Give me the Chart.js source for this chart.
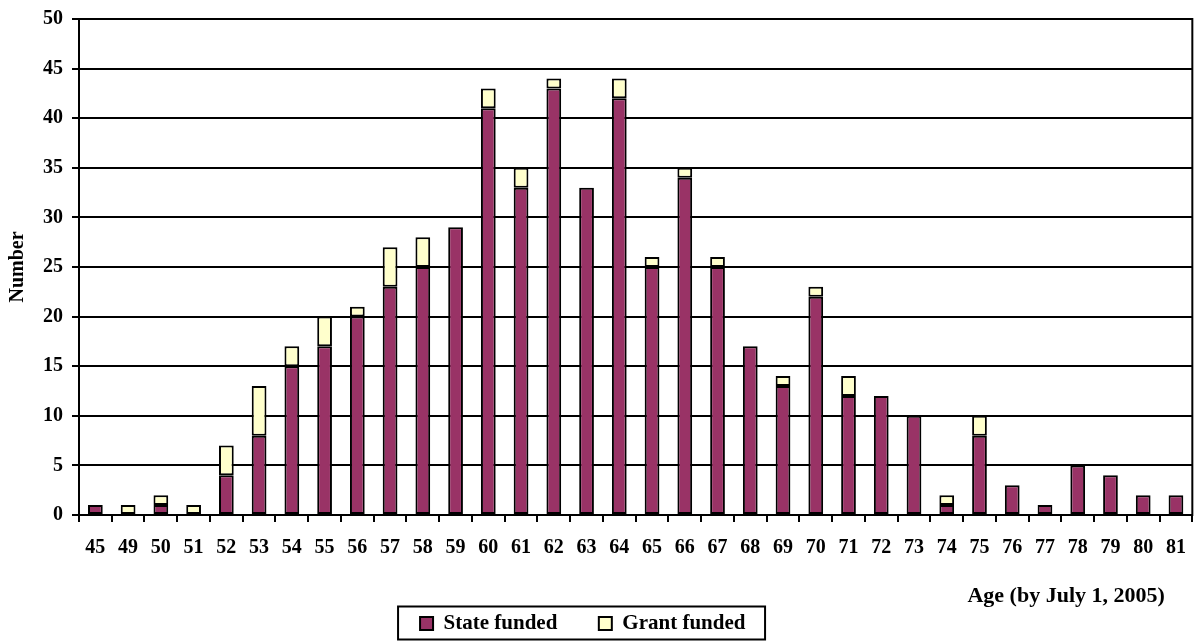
<!DOCTYPE html>
<html lang="en">
<head>
<meta charset="UTF-8">
<title>Number by age</title>
<script src="https://cdn.jsdelivr.net/npm/chart.js@4.4.1/dist/chart.umd.min.js"></script>
<style>
  html, body { margin: 0; padding: 0; background: #fff; }
  .chart-container { position: relative; width: 1200px; height: 644px; }
</style>
</head>
<body>
<div class="chart-container"><canvas id="ageChart"></canvas></div>
<script>
const ages = ['45', '49', '50', '51', '52', '53', '54', '55', '56', '57', '58', '59', '60', '61', '62', '63', '64',
              '65', '66', '67', '68', '69', '70', '71', '72', '73', '74', '75', '76', '77', '78', '79', '80', '81'];
const stateFunded = [1, 0, 1, 0, 4, 8, 15, 17, 20, 23, 25, 29, 41, 33, 43, 33, 42,
                     25, 34, 25, 17, 13, 22, 12, 12, 10, 1, 8, 3, 1, 5, 4, 2, 2];
const grantFunded = [0, 1, 1, 1, 3, 5, 2, 3, 1, 4, 3, 0, 2, 2, 1, 0, 2,
                     1, 1, 1, 0, 1, 1, 2, 0, 0, 1, 2, 0, 0, 0, 0, 0, 0];
const yMax = 50;
const yStep = 5;

const FONT = "'Liberation Serif', 'Times New Roman', serif";
const NBSP = '\u00a0';

// right edge of the plot box + frame round the legend
const framePlugin = {
    id: 'framePlugin',
    afterDraw(chart) {
        const ctx = chart.ctx;
        const a = chart.chartArea;
        ctx.save();
        ctx.strokeStyle = '#000';
        ctx.lineWidth = 2;
        ctx.beginPath();
        ctx.moveTo(a.right, a.top - 1);
        ctx.lineTo(a.right, a.bottom + 1);
        ctx.stroke();

        const boxes = chart.legend.legendHitBoxes;
        if (boxes && boxes.length) {
            const left = boxes[0].left - 22;
            const mid = boxes[0].top + boxes[0].height / 2;
            ctx.strokeRect(left, mid - 17, 367, 33);
        }
        ctx.restore();
    }
};

const ctx = document.getElementById('ageChart').getContext('2d');
new Chart(ctx, {
    type: 'bar',
    data: {
        labels: ages,
        datasets: [{
            label: 'State funded',
            data: stateFunded,
            backgroundColor: '#993366',
            borderColor: '#000',
            borderWidth: 2,
            borderSkipped: false,
            barPercentage: 0.45,
            categoryPercentage: 1
        }, {
            label: 'Grant funded',
            data: grantFunded,
            backgroundColor: '#FFFFCC',
            borderColor: '#000',
            borderWidth: 2,
            borderSkipped: false,
            barPercentage: 0.45,
            categoryPercentage: 1
        }]
    },
    options: {
        responsive: true,
        maintainAspectRatio: false,
        animation: false,
        layout: { padding: { top: 17, right: 3, bottom: 0, left: 0 } },
        scales: {
            x: {
                stacked: true,
                offset: true,
                grid: {
                    display: true,
                    drawOnChartArea: false,
                    drawTicks: true,
                    tickLength: 7,
                    offset: true,
                    color: '#000',
                    lineWidth: 2
                },
                border: { display: true, color: '#000', width: 2 },
                ticks: {
                    color: '#000',
                    padding: 14,
                    maxRotation: 0,
                    autoSkip: false,
                    font: { family: FONT, size: 20, weight: 'bold' }
                },
                title: {
                    display: true,
                    align: 'end',
                    text: 'Age (by July 1, 2005)' + NBSP.repeat(5),
                    color: '#000',
                    padding: { top: 0, bottom: -4 },
                    font: { family: FONT, size: 22, weight: 'bold', lineHeight: 1 }
                },
                afterFit: s => { s.height = 88; }
            },
            y: {
                stacked: true,
                min: 0,
                max: yMax,
                grid: {
                    color: '#000',
                    lineWidth: 2,
                    tickLength: 7
                },
                border: { display: true, color: '#000', width: 2 },
                ticks: {
                    stepSize: yStep,
                    color: '#000',
                    padding: 9,
                    font: { family: FONT, size: 20, weight: 'bold', lineHeight: 1 }
                },
                title: {
                    display: true,
                    text: 'Number',
                    color: '#000',
                    padding: { top: 6, bottom: 0 },
                    font: { family: FONT, size: 20, weight: 'bold' }
                },
                afterFit: s => { s.width = 79; }
            }
        },
        plugins: {
            legend: {
                position: 'bottom',
                labels: {
                    color: '#000',
                    boxWidth: 13,
                    boxHeight: 13,
                    padding: 10,
                    font: { family: FONT, size: 21, weight: 'bold' },
                    generateLabels: chart => {
                        const items = Chart.defaults.plugins.legend.labels.generateLabels(chart);
                        // widen the gap between the entries, and pull the pair a little left
                        items[0].text += NBSP.repeat(6);
                        items[1].text += NBSP.repeat(6);
                        return items;
                    }
                }
            },
            tooltip: { enabled: false }
        }
    },
    plugins: [framePlugin]
});
</script>
</body>
</html>
